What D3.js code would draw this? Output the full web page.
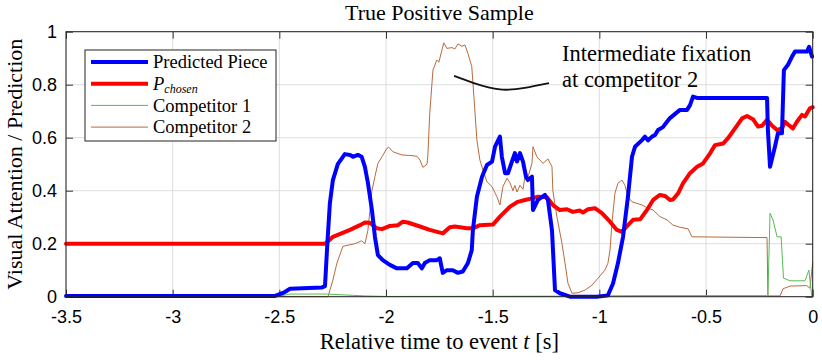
<!DOCTYPE html>
<html>
<head>
<meta charset="utf-8">
<script src="https://cdn.jsdelivr.net/npm/d3@7"></script>
<style>
  body { margin: 0; background: #fff; }
  .serif { font-family: "Liberation Serif", "DejaVu Serif", serif; }
  .tick text { font-family: "Liberation Sans", Arial, sans-serif; font-size: 18px; fill: #000; }
</style>
</head>
<body>
<div id="chart"></div>
<script>
// 数据（时间 t [s], 数值）
const xTicks = [-3.5, -3, -2.5, -2, -1.5, -1, -0.5, 0];
const yTicks = [0, 0.2, 0.4, 0.6, 0.8, 1];

const predictedPiece = [
  [-3.5,0.003],[-2.52,0.003],[-2.48,0.015],[-2.45,0.03],[-2.3,0.035],[-2.286,0.04],[-2.275,0.2],
  [-2.263,0.354],[-2.249,0.44],[-2.226,0.5],[-2.193,0.538],[-2.169,0.535],[-2.155,0.528],[-2.132,0.535],
  [-2.114,0.528],[-2.099,0.49],[-2.085,0.43],[-2.066,0.327],[-2.052,0.226],[-2.038,0.157],[-2.015,0.138],
  [-1.982,0.12],[-1.949,0.107],[-1.902,0.107],[-1.874,0.127],[-1.851,0.127],[-1.832,0.107],[-1.818,0.127],
  [-1.795,0.138],[-1.762,0.138],[-1.748,0.145],[-1.734,0.09],[-1.715,0.1],[-1.687,0.1],[-1.663,0.09],
  [-1.64,0.095],[-1.616,0.127],[-1.598,0.176],[-1.593,0.25],[-1.574,0.377],[-1.55,0.453],[-1.527,0.497],
  [-1.503,0.51],[-1.489,0.566],[-1.466,0.604],[-1.457,0.528],[-1.442,0.466],[-1.428,0.466],[-1.41,0.51],
  [-1.396,0.542],[-1.386,0.51],[-1.372,0.542],[-1.358,0.51],[-1.344,0.453],[-1.335,0.44],[-1.316,0.453],
  [-1.311,0.327],[-1.288,0.365],[-1.255,0.384],[-1.241,0.365],[-1.222,0.25],[-1.208,0.025],[-1.185,0.013],
  [-1.138,0.0],[-1.011,0.0],[-0.96,0.005],[-0.936,0.05],[-0.913,0.126],[-0.889,0.226],[-0.866,0.377],
  [-0.847,0.528],[-0.833,0.566],[-0.8,0.591],[-0.786,0.604],[-0.772,0.59],[-0.753,0.604],[-0.739,0.61],
  [-0.725,0.629],[-0.702,0.64],[-0.683,0.66],[-0.669,0.674],[-0.645,0.69],[-0.622,0.705],[-0.589,0.705],
  [-0.575,0.723],[-0.561,0.755],[-0.542,0.75],[-0.214,0.75],[-0.21,0.629],[-0.2,0.49],[-0.177,0.566],
  [-0.163,0.617],[-0.144,0.617],[-0.135,0.855],[-0.116,0.875],[-0.097,0.906],[-0.083,0.925],[-0.027,0.925],
  [-0.017,0.943],[-0.003,0.906]
];

const pChosen = [
  [-3.5,0.2],[-2.286,0.2],[-2.277,0.205],[-2.249,0.226],[-2.169,0.252],[-2.122,0.27],[-2.099,0.28],
  [-2.076,0.279],[-2.043,0.258],[-2.019,0.255],[-1.982,0.267],[-1.944,0.27],[-1.921,0.283],[-1.898,0.28],
  [-1.841,0.265],[-1.795,0.252],[-1.734,0.239],[-1.701,0.262],[-1.677,0.265],[-1.621,0.258],[-1.593,0.258],
  [-1.56,0.27],[-1.499,0.272],[-1.466,0.302],[-1.419,0.34],[-1.382,0.358],[-1.349,0.365],[-1.316,0.371],
  [-1.288,0.377],[-1.246,0.375],[-1.218,0.346],[-1.185,0.327],[-1.152,0.33],[-1.124,0.32],[-1.091,0.325],
  [-1.077,0.318],[-1.053,0.33],[-1.021,0.334],[-0.988,0.315],[-0.95,0.283],[-0.918,0.252],[-0.894,0.245],
  [-0.866,0.27],[-0.842,0.29],[-0.809,0.292],[-0.777,0.327],[-0.748,0.365],[-0.716,0.384],[-0.692,0.38],
  [-0.669,0.365],[-0.655,0.367],[-0.631,0.39],[-0.608,0.428],[-0.575,0.466],[-0.542,0.49],[-0.514,0.503],
  [-0.481,0.541],[-0.458,0.572],[-0.42,0.578],[-0.397,0.598],[-0.364,0.635],[-0.331,0.673],[-0.308,0.682],
  [-0.28,0.67],[-0.256,0.642],[-0.237,0.645],[-0.214,0.668],[-0.19,0.645],[-0.167,0.629],[-0.144,0.635],
  [-0.13,0.66],[-0.116,0.65],[-0.093,0.635],[-0.074,0.66],[-0.05,0.686],[-0.036,0.68],[-0.013,0.711],[0,0.715]
];

const competitor1 = [
  [-3.5,0],[-2.5,0.002],[-2.45,0.01],[-2.28,0.01],[-2.1,0.003],[-2.0,0.001],[-1.2,0.002],[-0.8,0.004],
  [-0.215,0.004],[-0.21,0],[-0.2,0.315],[-0.186,0.29],[-0.167,0.226],[-0.148,0.226],[-0.137,0.07],
  [-0.106,0.06],[-0.036,0.06],[-0.018,0.1],[-0.004,0.0],[0,0.0]
];

const competitor2 = [
  [-3.5,0],[-2.272,0],[-2.249,0.063],[-2.23,0.127],[-2.202,0.19],[-2.146,0.2],[-2.114,0.211],[-2.099,0.2],
  [-2.085,0.25],[-2.066,0.4],[-2.052,0.453],[-2.038,0.503],[-2.019,0.528],[-1.996,0.56],[-1.987,0.564],
  [-1.968,0.547],[-1.926,0.535],[-1.888,0.533],[-1.855,0.53],[-1.841,0.516],[-1.827,0.488],[-1.808,0.5],
  [-1.804,0.53],[-1.795,0.692],[-1.78,0.855],[-1.762,0.893],[-1.752,0.885],[-1.738,0.931],[-1.729,0.958],
  [-1.715,0.937],[-1.691,0.94],[-1.677,0.935],[-1.663,0.954],[-1.644,0.945],[-1.63,0.95],[-1.616,0.918],
  [-1.598,0.868],[-1.588,0.755],[-1.574,0.591],[-1.56,0.516],[-1.546,0.478],[-1.527,0.434],[-1.503,0.415],
  [-1.48,0.377],[-1.466,0.346],[-1.452,0.415],[-1.433,0.447],[-1.419,0.43],[-1.405,0.4],[-1.396,0.42],
  [-1.386,0.395],[-1.372,0.42],[-1.358,0.405],[-1.344,0.478],[-1.335,0.45],[-1.316,0.503],[-1.311,0.566],
  [-1.293,0.528],[-1.264,0.503],[-1.241,0.52],[-1.222,0.49],[-1.218,0.4],[-1.199,0.302],[-1.175,0.2],
  [-1.161,0.126],[-1.147,0.05],[-1.128,0.013],[-1.1,0.015],[-1.067,0.025],[-1.034,0.044],[-1.006,0.07],
  [-0.974,0.1],[-0.96,0.126],[-0.95,0.176],[-0.941,0.277],[-0.927,0.39],[-0.913,0.428],[-0.894,0.44],
  [-0.88,0.42],[-0.866,0.377],[-0.847,0.358],[-0.824,0.352],[-0.8,0.346],[-0.772,0.334],[-0.748,0.327],
  [-0.716,0.302],[-0.683,0.29],[-0.655,0.27],[-0.622,0.262],[-0.584,0.256],[-0.566,0.226],[-0.214,0.223],
  [-0.21,0.003],[-0.153,0.003],[-0.139,0.03],[-0.106,0.04],[-0.028,0.042],[-0.013,0.032],[0,0.13]
];

// 注释曲线
const annotationCurve = [[-1.681,0.833],[-1.588,0.806],[-1.466,0.782],[-1.35,0.788],[-1.236,0.806]];
const annotationText = ["Intermediate fixation", "at competitor 2"];

// 配置
const config = {
  width: 822,
  height: 362,
  margin: { top: 31.7, right: 9.3, bottom: 65.3, left: 66 }
};

const innerW = config.width - config.margin.left - config.margin.right;
const innerH = config.height - config.margin.top - config.margin.bottom;

const svg = d3.select('#chart').append('svg')
  .attr('width', config.width)
  .attr('height', config.height);

const g = svg.append('g')
  .attr('transform', `translate(${config.margin.left},${config.margin.top})`);

const x = d3.scaleLinear().domain([-3.5, 0]).range([0, innerW]);
const y = d3.scaleLinear().domain([0, 1]).range([innerH, 0]);

// 网格
g.append('g').selectAll('line.vgrid').data(xTicks).join('line')
  .attr('x1', d => x(d)).attr('x2', d => x(d))
  .attr('y1', 0).attr('y2', innerH)
  .attr('stroke', '#dedede').attr('stroke-width', 1);
g.append('g').selectAll('line.hgrid').data(yTicks).join('line')
  .attr('x1', 0).attr('x2', innerW)
  .attr('y1', d => y(d)).attr('y2', d => y(d))
  .attr('stroke', '#dedede').attr('stroke-width', 1);

// 坐标轴
const xAxis = g.append('g')
  .attr('transform', `translate(0,${innerH})`)
  .call(d3.axisBottom(x).tickValues(xTicks).tickSizeInner(-7).tickSizeOuter(0).tickPadding(14)
    .tickFormat(d => d === 0 ? '0' : String(d)));
const yAxis = g.append('g')
  .call(d3.axisLeft(y).tickValues(yTicks).tickSizeInner(-7).tickSizeOuter(0).tickPadding(9)
    .tickFormat(d => String(d)));
g.append('g')
  .call(d3.axisTop(x).tickValues(xTicks).tickSizeInner(-7).tickSizeOuter(0).tickFormat(''));
g.append('g')
  .attr('transform', `translate(${innerW},0)`)
  .call(d3.axisRight(y).tickValues(yTicks).tickSizeInner(-7).tickSizeOuter(0).tickFormat(''));
g.selectAll('.domain').remove();
g.selectAll('.tick line').attr('stroke', '#333');
xAxis.selectAll('.tick text').attr('dy', '0.71em');
yAxis.selectAll('.tick text').attr('dy', '0.34em');

// 曲线
const line = d3.line().x(d => x(d[0])).y(d => y(d[1]));

const series = [
  { name: 'Competitor 2', data: competitor2, color: '#b86b3e', width: 1 },
  { name: 'Competitor 1', data: competitor1, color: '#55bb55', width: 1 },
  { name: 'P', data: pChosen, color: '#ff0000', width: 4 },
  { name: 'Predicted Piece', data: predictedPiece, color: '#0000ff', width: 4 }
];

const plot = g.append('g');
series.forEach(s => {
  plot.append('path')
    .datum(s.data)
    .attr('d', line)
    .attr('fill', 'none')
    .attr('stroke', s.color)
    .attr('stroke-width', s.width)
    .attr('stroke-linejoin', 'round')
    .attr('stroke-linecap', 'round');
});

// 边框
g.append('rect')
  .attr('width', innerW).attr('height', innerH)
  .attr('fill', 'none').attr('stroke', '#222').attr('stroke-width', 1);

// 注释
g.append('path')
  .datum(annotationCurve)
  .attr('d', d3.line().x(d => x(d[0])).y(d => y(d[1])).curve(d3.curveNatural))
  .attr('fill', 'none').attr('stroke', '#111').attr('stroke-width', 1.8);

const ann = g.append('text').attr('class', 'serif')
  .attr('x', x(-1.175)).attr('y', y(0.89))
  .attr('font-size', 22.5);
annotationText.forEach((t, i) => {
  ann.append('tspan').attr('x', x(-1.175)).attr('dy', i === 0 ? 0 : 26).text(t);
});

// 图例
const legendItems = [
  { label: 'Predicted Piece', color: '#0000ff', width: 4 },
  { label: 'P', sub: 'chosen', color: '#ff0000', width: 4 },
  { label: 'Competitor 1', color: '#55bb55', width: 1 },
  { label: 'Competitor 2', color: '#b86b3e', width: 1 }
];
const legend = svg.append('g').attr('transform', 'translate(85,50)');
legend.append('rect')
  .attr('width', 191).attr('height', 91)
  .attr('fill', '#fff').attr('stroke', '#222').attr('stroke-width', 1);
legendItems.forEach((d, i) => {
  const yy = 12 + i * 21.7;
  legend.append('line')
    .attr('x1', 6).attr('x2', 63).attr('y1', yy).attr('y2', yy)
    .attr('stroke', d.color).attr('stroke-width', d.width);
  const t = legend.append('text').attr('class', 'serif')
    .attr('x', 68).attr('y', yy).attr('dy', '0.33em')
    .attr('font-size', 18.5);
  if (d.sub) {
    t.append('tspan').attr('font-style', 'italic').text(d.label);
    t.append('tspan').attr('font-style', 'italic').attr('font-size', 12).attr('dy', 3).text(d.sub);
  } else {
    t.text(d.label);
  }
});

// 标题
svg.append('text').attr('class', 'serif')
  .attr('x', config.margin.left + innerW / 2).attr('y', 20)
  .attr('text-anchor', 'middle').attr('font-size', 22)
  .text('True Positive Sample');

// 轴标题
const xl = svg.append('text').attr('class', 'serif')
  .attr('x', config.margin.left + innerW / 2).attr('y', 349)
  .attr('text-anchor', 'middle').attr('font-size', 22.5);
xl.append('tspan').text('Relative time to event ');
xl.append('tspan').attr('font-style', 'italic').text('t');
xl.append('tspan').text(' [s]');

svg.append('text').attr('class', 'serif')
  .attr('transform', `translate(22,${config.margin.top + innerH / 2}) rotate(-90)`)
  .attr('text-anchor', 'middle').attr('font-size', 22)
  .text('Visual Attention / Prediction');
</script>
</body>
</html>
